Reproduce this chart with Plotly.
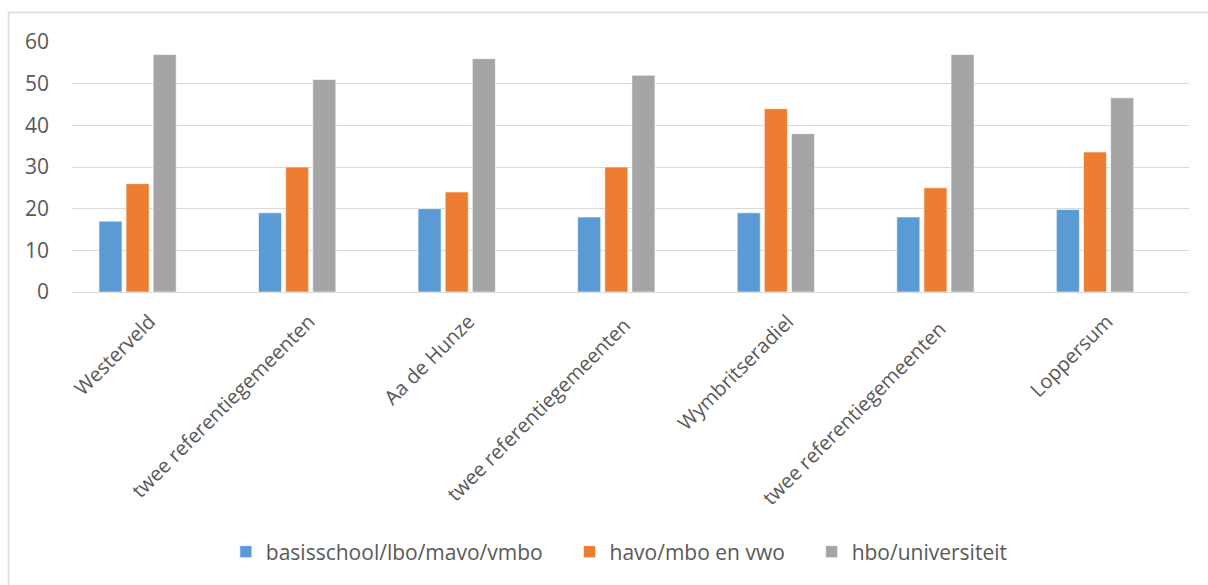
import plotly.graph_objects as go

# Gemeenten en referentiegroepen
categories = [
    "Westerveld",
    "twee referentiegemeenten",
    "Aa de Hunze",
    "twee referentiegemeenten ",
    "Wymbritseradiel",
    "twee referentiegemeenten  ",
    "Loppersum",
]

series_names = ["basisschool/lbo/mavo/vmbo", "havo/mbo en vwo", "hbo/universiteit"]
basis_values = [17, 19, 20, 18, 19, 18, 19.8]
havo_values = [26, 30, 24, 30, 44, 25, 33.6]
hbo_values = [57, 51, 56, 52, 38, 57, 46.6]

colors = ["#5B9BD5", "#ED7D31", "#A5A5A5"]
y_ticks = [0, 10, 20, 30, 40, 50, 60]

FONT = "Open Sans"
TEXT = "#595959"
GRID = "#D9D9D9"
PAD = "\u00a0" * 4  # extra spacing between legend entries

fig = go.Figure()
for i, (name, vals, col) in enumerate(zip(series_names, [basis_values, havo_values, hbo_values], colors)):
    fig.add_trace(go.Bar(
        x=categories, y=vals, name=name + (PAD if i < 2 else ""),
        marker=dict(color=col, line=dict(color="white", width=0.6)),
    ))

shift = 0.089  # category bands sit slightly left of the gridlines
fig.update_layout(
    width=1208, height=585,
    margin=dict(l=72, r=19, t=42, b=293),
    paper_bgcolor="white", plot_bgcolor="white",
    barmode="group", bargap=0.49, bargroupgap=0.15,
    font=dict(family=FONT, color=TEXT, size=20),
    showlegend=True,
    legend=dict(
        orientation="h", x=0.49, xanchor="center", y=-1.04, yanchor="middle",
        font=dict(size=21, color=TEXT), itemwidth=30,
        traceorder="normal",
    ),
    xaxis=dict(
        range=[-0.5 + shift, 6.5 + shift],
        tickangle=-45, showgrid=False, showline=False, ticks="",
        ticklabelstandoff=13, ticklabelshift=12,
        tickfont=dict(size=20, color=TEXT),
    ),
    yaxis=dict(
        range=[0, 60], tickvals=y_ticks, showgrid=True, gridcolor=GRID,
        gridwidth=1.3, zeroline=True, zerolinecolor=GRID, zerolinewidth=1.3,
        showline=False, ticks="", ticklabelstandoff=22,
        tickfont=dict(size=21, color=TEXT),
    ),
    shapes=[dict(
        type="rect", xref="paper", yref="paper",
        x0=(8.5 - 72) / 1117, x1=1.2, y0=-2, y1=(292 - 12.5) / 250,
        line=dict(color=GRID, width=1.5), fillcolor="rgba(0,0,0,0)", layer="below",
    )],
)

fig.write_html("out.html")
